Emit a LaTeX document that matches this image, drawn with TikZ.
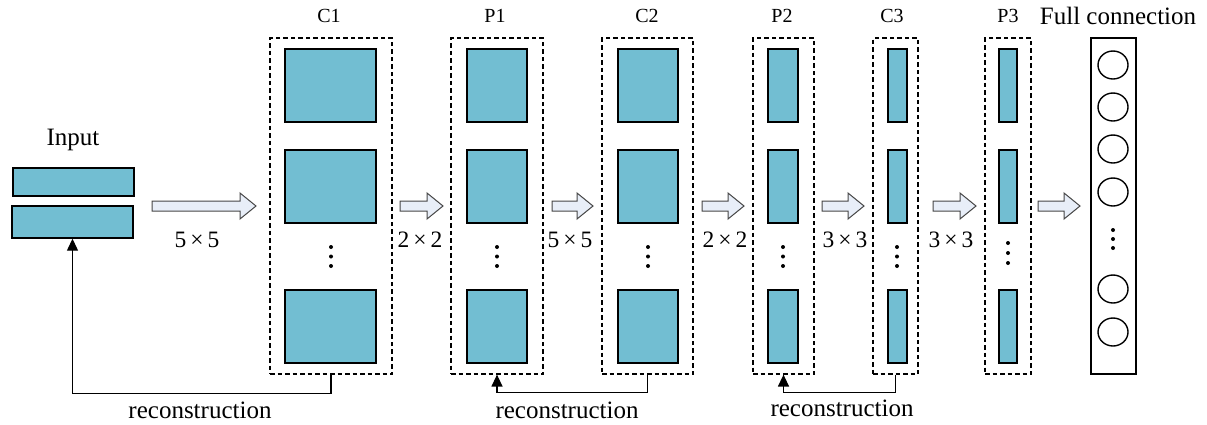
\documentclass[tikz,border=0pt]{standalone}
\usepackage{fontspec}
\setmainfont{Liberation Serif}
\usetikzlibrary{fit,arrows.meta,shapes.geometric}
\definecolor{fmapfill}{RGB}{114,190,210}
\definecolor{arrfill}{RGB}{232,238,248}
\definecolor{arrline}{RGB}{70,70,70}
\tikzset{
  fmap/.style={draw=black, line width=1.4pt, fill=fmapfill, inner sep=0pt},
  layerbox/.style={draw=black, line width=1.2pt, dash pattern=on 4.5pt off 3pt, inner sep=0pt},
  fcbox/.style={draw=black, line width=1.4pt, inner sep=0pt},
  neuron/.style={draw=black, line width=1.4pt, ellipse, minimum width=30pt, minimum height=28pt, inner sep=0pt},
  dotmark/.style={circle, fill=black, inner sep=0pt, minimum size=4pt},
  toplabel/.style={font=\fontsize{20}{24}\selectfont, inner sep=0pt},
  sizelabel/.style={font=\fontsize{23.5}{27}\selectfont, inner sep=0pt},
  bigtext/.style={font=\fontsize{25}{29}\selectfont, inner sep=0pt},
  blockarrow/.style={draw=arrline, fill=arrfill, line width=1pt, line join=miter},
  recon/.style={draw=black, line width=1.3pt, -{Triangle[width=11pt,length=12pt]}},
}
\newcommand\blkarrow[2]{%
  \draw[blockarrow] (#1,201) -- ({#2-16},201) -- ({#2-16},193) -- (#2,206)
    -- ({#2-16},219) -- ({#2-16},211) -- (#1,211) -- cycle;}
\begin{document}
\begin{tikzpicture}[x=1pt,y=-1pt]
\useasboundingbox (0,0) rectangle (1207,424);
% input
\node[bigtext] (inlab) at (73,140) {Input};
\node[fmap, fit={(13,168) (134,196)}] (in1) {};
\node[fmap, fit={(12,206) (133,238)}] (in2) {};
% layer boxes
\node[layerbox, fit={(270,38) (392,374)}] (c1) {};
\node[layerbox, fit={(451,38) (543,374)}] (p1) {};
\node[layerbox, fit={(602,38) (693,374)}] (c2) {};
\node[layerbox, fit={(753,38) (814,374)}] (p2) {};
\node[layerbox, fit={(873,38) (918,374)}] (c3) {};
\node[layerbox, fit={(985,38) (1031,374)}] (p3) {};
\node[fcbox, fit={(1091,38) (1136,374)}] (fc) {};
% feature maps
\foreach \n/\xa/\xb in {c1/285/376, p1/467/527, c2/618/678, p2/768/798, c3/888/907, p3/999/1017} {
  \node[fmap, fit={(\xa,49) (\xb,122)}] (\n-a) {};
  \node[fmap, fit={(\xa,150) (\xb,223)}] (\n-b) {};
  \node[fmap, fit={(\xa,290) (\xb,363)}] (\n-c) {};
}
% dots
\foreach \n/\x/\y/\s in {c1/331/247/9.5, p1/497/247/9.5, c2/648/247/9.5, p2/783/247/9.5, c3/897/247/9.5, p3/1008/243/10, fc/1113/230/9} {
  \foreach \k in {0,1,2}
    \node[dotmark] (\n-dot\k) at (\x,{\y+\k*\s}) {};
}
% neurons
\foreach \k/\y in {1/65,2/107,3/149,4/192,5/289,6/332}
  \node[neuron] (fcn\k) at (1113,\y) {};
% top labels
\node[toplabel] (c1lab) at (329,16) {C1};
\node[toplabel] (p1lab) at (495,16) {P1};
\node[toplabel] (c2lab) at (647,16) {C2};
\node[toplabel] (p2lab) at (782,16) {P2};
\node[toplabel] (c3lab) at (892,16) {C3};
\node[toplabel] (p3lab) at (1008,16) {P3};
\node[bigtext] (fclab) at (1118,16) {Full connection};
% block arrows
\blkarrow{152}{256}
\blkarrow{400}{443}
\blkarrow{552}{593}
\blkarrow{702}{744}
\blkarrow{822}{864}
\blkarrow{933}{976}
\blkarrow{1038}{1080}
% size labels
\node[sizelabel] (k1) at (197,240) {5\,×\,5};
\node[sizelabel] (k2) at (420,240) {2\,×\,2};
\node[sizelabel] (k3) at (570,240) {5\,×\,5};
\node[sizelabel] (k4) at (725,240) {2\,×\,2};
\node[sizelabel] (k5) at (845,240) {3\,×\,3};
\node[sizelabel] (k6) at (951,240) {3\,×\,3};
% reconstruction connectors
\draw[recon] (c1.south) -- ++(0,19) -| (in2.south);
\draw[recon] (c2.south) -- ++(0,18) -| (p1.south);
\draw[recon] (c3.south) -- ++(0,18) -| (p2.south);
\node[bigtext] (r1) at (200,410) {reconstruction};
\node[bigtext] (r2) at (567,410) {reconstruction};
\node[bigtext] (r3) at (842,408) {reconstruction};
\end{tikzpicture}
\end{document}
